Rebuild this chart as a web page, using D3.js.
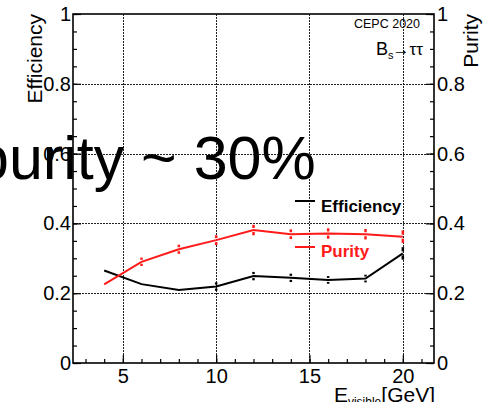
<!DOCTYPE html>
<html>
<head>
<meta charset="utf-8">
<script src="https://cdn.jsdelivr.net/npm/d3@7"></script>
<style>
  html, body { margin: 0; padding: 0; background: #fff; overflow: hidden; }
  svg { display: block; font-family: "Liberation Sans", Arial, Helvetica, sans-serif; }
</style>
</head>
<body>
<svg id="chart" width="502" height="402"></svg>
<script>
// Visible energy bins [GeV]
const energy = [4, 6, 8, 10, 12, 14, 16, 18, 20];
// Selection efficiency and its uncertainty
const efficiency = [0.265, 0.226, 0.209, 0.219, 0.249, 0.244, 0.238, 0.242, 0.314];
const efficiencyErr = [0.003, 0.004, 0.004, 0.012, 0.012, 0.012, 0.011, 0.011, 0.018];
// Signal purity and its uncertainty
const purity = [0.225, 0.290, 0.326, 0.352, 0.381, 0.369, 0.371, 0.369, 0.362];
const purityErr = [0.004, 0.012, 0.013, 0.014, 0.015, 0.014, 0.015, 0.015, 0.018];
// Axis ticks
const xTicks = [5, 10, 15, 20];
const yTicks = [0, 0.2, 0.4, 0.6, 0.8, 1];

const svg = d3.select("#chart");
const frameL = 73, frameR = 434, frameT = 14, frameB = 363;

const x = d3.scaleLinear().domain([2.33, 21.67]).range([frameL, frameR]);
const y = d3.scaleLinear().domain([0, 1]).range([frameB, frameT]);

// Dotted grid
const grid = svg.append("g").attr("stroke", "#222").attr("stroke-width", 1)
  .attr("stroke-dasharray", "1.5,1.5").attr("shape-rendering", "crispEdges");
grid.selectAll("line.gx").data(xTicks).join("line")
  .attr("x1", d => Math.round(x(d)) + 0.5).attr("x2", d => Math.round(x(d)) + 0.5)
  .attr("y1", frameT).attr("y2", frameB);
grid.selectAll("line.gy").data(yTicks.filter(d => d > 0 && d < 1)).join("line")
  .attr("y1", d => Math.round(y(d)) + 0.5).attr("y2", d => Math.round(y(d)) + 0.5)
  .attr("x1", frameL).attr("x2", frameR);

// Axes: ticks point into the frame
const fontSize = 20;
function styleAxis(g) {
  g.select(".domain").remove();
  g.selectAll(".tick line").attr("stroke", "#000").attr("stroke-width", 1.2);
  g.selectAll(".tick text").attr("font-size", fontSize).attr("fill", "#000")
    .attr("font-family", "'Liberation Sans', Arial, sans-serif");
}
const minorY = d3.range(0, 1.0001, 0.05);
const minorX = d3.range(3, 21.5, 1);

svg.append("g").attr("transform", `translate(${frameL},0)`)
  .call(d3.axisLeft(y).tickValues(minorY).tickFormat("").tickSize(-4)).call(styleAxis);
svg.append("g").attr("transform", `translate(${frameL},0)`)
  .call(d3.axisLeft(y).tickValues(yTicks).tickFormat(d3.format("~g")).tickSize(-8).tickPadding(2))
  .call(styleAxis);

svg.append("g").attr("transform", `translate(${frameR},0)`)
  .call(d3.axisRight(y).tickValues(minorY).tickFormat("").tickSize(-4)).call(styleAxis);
svg.append("g").attr("transform", `translate(${frameR},0)`)
  .call(d3.axisRight(y).tickValues(yTicks).tickFormat(d3.format("~g")).tickSize(-8).tickPadding(3))
  .call(styleAxis);

svg.append("g").attr("transform", `translate(0,${frameB})`)
  .call(d3.axisBottom(x).tickValues(minorX).tickFormat("").tickSize(-4)).call(styleAxis);
svg.append("g").attr("transform", `translate(0,${frameB})`)
  .call(d3.axisBottom(x).tickValues(xTicks).tickFormat(d3.format("d")).tickSize(-8).tickPadding(6))
  .call(styleAxis);

// Frame
svg.append("rect").attr("x", frameL).attr("y", frameT)
  .attr("width", frameR - frameL).attr("height", frameB - frameT)
  .attr("fill", "none").attr("stroke", "#000").attr("stroke-width", 1.6);

// Axis titles
svg.append("text").attr("transform", `translate(42,${frameT}) rotate(-90)`)
  .attr("text-anchor", "end").attr("font-size", 21).text("Efficiency");
svg.append("text").attr("transform", `translate(478,${frameT}) rotate(-90)`)
  .attr("text-anchor", "end").attr("font-size", 21).text("Purity");
const xt = svg.append("text").attr("x", 435).attr("y", 402)
  .attr("text-anchor", "end").attr("font-size", 21);
xt.append("tspan").text("E");
xt.append("tspan").attr("font-size", 12).attr("dy", 4).text("visible");
xt.append("tspan").attr("dy", -4).text("[GeV]");

// Series
const series = [
  { name: "Efficiency", values: efficiency, errors: efficiencyErr, color: "#000" },
  { name: "Purity", values: purity, errors: purityErr, color: "#ff1a1a" }
];
const line = d3.line().x(d => x(d[0])).y(d => y(d[1]));
const gap = 2;

series.forEach(s => {
  const pts = energy.map((e, i) => [e, s.values[i], s.errors[i]]);
  svg.append("path").datum(pts).attr("d", line)
    .attr("fill", "none").attr("stroke", s.color).attr("stroke-width", 2);
  const eb = svg.append("g").attr("stroke", s.color).attr("stroke-width", 2.5);
  pts.forEach(p => {
    const cx = x(p[0]), cy = y(p[1]);
    const hi = y(p[1] + p[2]), lo = y(p[1] - p[2]);
    if (cy - hi > gap) eb.append("line").attr("x1", cx).attr("x2", cx).attr("y1", hi).attr("y2", cy - gap);
    if (lo - cy > gap) eb.append("line").attr("x1", cx).attr("x2", cx).attr("y1", cy + gap).attr("y2", lo);
  });
});

// Legend
const legend = [
  { name: "Efficiency", color: "#000", ly: 201, ty: 212 },
  { name: "Purity", color: "#ff1a1a", ly: 247, ty: 257 }
];
legend.forEach(l => {
  svg.append("line").attr("x1", 295).attr("x2", 315).attr("y1", l.ly).attr("y2", l.ly)
    .attr("stroke", l.color).attr("stroke-width", 2);
  svg.append("text").attr("x", 321).attr("y", l.ty).attr("font-size", 17)
    .attr("font-weight", "bold").attr("fill", l.color).text(l.name);
});

// Labels in the corner
svg.append("text").attr("x", 420).attr("y", 28).attr("text-anchor", "end")
  .attr("font-size", 12.5).text("CEPC 2020");
const bt = svg.append("text").attr("x", 376).attr("y", 55).attr("font-size", 18);
bt.append("tspan").text("B");
bt.append("tspan").attr("font-size", 11).attr("dy", 4).text("s");
bt.append("tspan").attr("dy", -4).attr("dx", -1).attr("font-size", 17).text("\u2192\u03C4\u03C4");

// Headline annotation
svg.append("text").attr("x", -25).attr("y", 179).attr("font-size", 61)
  .attr("fill", "#000").text("purity ~ 30%");
</script>
</body>
</html>
